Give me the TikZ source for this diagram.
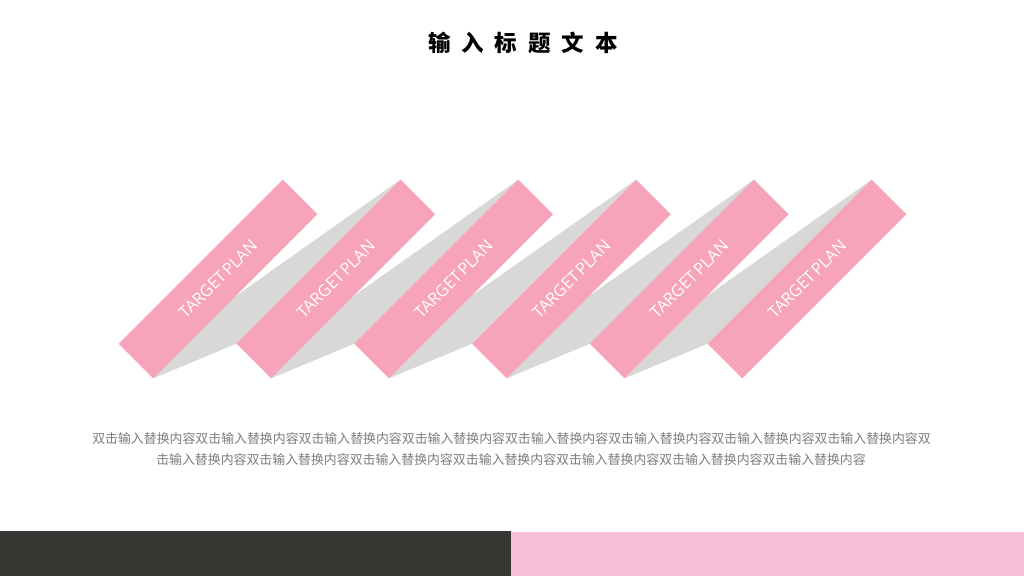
\documentclass[tikz,border=0pt]{standalone}
\usepackage{fontspec}
\newfontfamily\cjk{Noto Sans CJK SC}
\newfontfamily\latinsans{Open Sans}
\definecolor{bandpink}{RGB}{247,164,187}
\definecolor{shadowgray}{RGB}{216,216,216}
\definecolor{darkbar}{RGB}{56,54,50}
\definecolor{lightpink}{RGB}{245,192,216}
\definecolor{bodygray}{RGB}{125,125,125}
\pgfdeclarelayer{bg}
\pgfsetlayers{bg,main}
\begin{document}
\begin{tikzpicture}[x=1pt,y=1pt,
  band/.style={rectangle, fill=bandpink, rotate=45, minimum width=232pt, minimum height=49pt,
    inner sep=0pt, outer sep=0pt, text=white, font=\latinsans\fontsize{16.5}{16.5}\selectfont},
  shade/.style={fill=shadowgray},
  bodytext/.style={text=bodygray, font=\cjk\fontsize{12.9}{12.9}\selectfont, inner sep=0pt}]
\begin{pgfonlayer}{bg}
\fill[white] (0,0) rectangle (1024,576);
\end{pgfonlayer}
\useasboundingbox (0,0) rectangle (1024,576);
% title
\node[font=\cjk\bfseries\fontsize{22.5}{22.5}\selectfont, text=black] (title) at (523,533)
  {输\hspace{11pt}入\hspace{11pt}标\hspace{11pt}题\hspace{11pt}文\hspace{11pt}本};
% bands
\foreach \i in {1,...,6}{
  \node[band] (b\i) at ({218+117.8*(\i-1)},297) {TARGET\hspace{2pt}PLAN};
}
% shadows
\begin{pgfonlayer}{bg}
\foreach \i/\j in {1/2,2/3,3/4,4/5,5/6}{
  \fill[shade] (b\i.south west) -- (b\j.north west) -- (b\j.north east) -- (b\i.south) -- cycle;
}
\end{pgfonlayer}
% body text
\node[bodytext] (line1) at (511.5,137) {双击输入替换内容双击输入替换内容双击输入替换内容双击输入替换内容双击输入替换内容双击输入替换内容双击输入替换内容双击输入替换内容双};
\node[bodytext] (line2) at (511,116) {击输入替换内容双击输入替换内容双击输入替换内容双击输入替换内容双击输入替换内容双击输入替换内容双击输入替换内容};
% bottom bars
\fill[darkbar] (0,0) rectangle (511,45);
\fill[lightpink] (511,0) rectangle (1024,44);
\end{tikzpicture}
\end{document}
